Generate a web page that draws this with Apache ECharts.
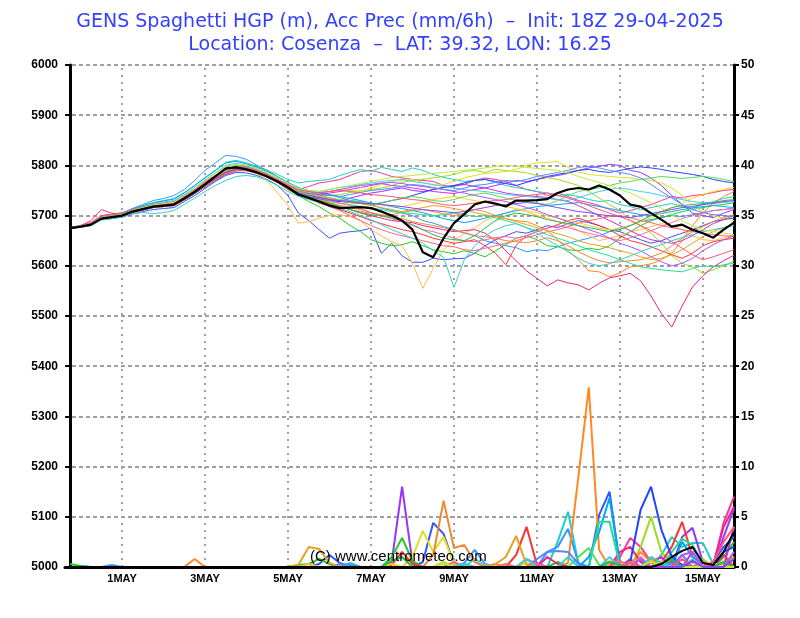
<!DOCTYPE html>
<html><head><meta charset="utf-8">
<script src="https://cdn.jsdelivr.net/npm/echarts@6/dist/echarts.min.js"></script>
<style>html,body{margin:0;padding:0;background:#fff}#c{width:800px;height:618px}</style>
</head><body><div id="c"></div>
<script>
// 6-hourly steps from init 18Z 29-04-2025 (65 steps)
const dateTickSteps = [5,13,21,29,37,45,53,61];
const dateTickLabels = ['1MAY','3MAY','5MAY','7MAY','9MAY','11MAY','13MAY','15MAY'];

// Control run HGP (m)
const hgp_ctrl = [5675,5678,5682,5694,5697,5700,5708,5713,5718,5720,5722,5734,5747,5762,5778,5794,5796,5792,5786,5778,5768,5756,
5742,5735,5728,5720,5715,5716,5717,5715,5708,5700,
5690,5672,5627,5617,5655,5685,5703,5722,5728,5724,
5718,5730,5730,5731,5733,5745,5752,5755,5752,5760,
5752,5740,5722,5718,5705,5692,5678,5682,5672,5665,
5656,5672,5686];

const hgp_m01 = [5676,5680,5690,5712,5705,5702,5712,5718,5722,5725,5728,5740,5752,5768,5780,5792,5800,5798,5790,5782,5772,5762,
5752,5758,5765,5768,5772,5780,5788,5790,5785,5778,
5775,5772,5770,5768,5760,5758,5762,5770,5775,5772,
5768,5760,5752,5748,5740,5745,5738,5730,5726,5720,
5712,5705,5710,5716,5722,5730,5738,5735,5740,5742,
5746,5750,5752];
const hgp_m02 = [5675,5679,5684,5698,5702,5706,5714,5720,5726,5730,5734,5746,5760,5776,5790,5806,5810,5805,5798,5790,5782,5772,
5765,5768,5770,5772,5780,5786,5792,5788,5796,5792,
5788,5795,5790,5782,5776,5772,5768,5770,5772,5766,
5760,5756,5752,5748,5745,5740,5742,5738,5732,5728,
5730,5722,5718,5712,5716,5720,5724,5718,5715,5722,
5728,5734,5738];
const hgp_m03 = [5674,5678,5683,5697,5700,5704,5714,5722,5730,5734,5740,5752,5770,5790,5805,5820,5818,5812,5800,5790,5776,5765,
5752,5745,5740,5742,5736,5730,5728,5722,5715,5710,
5705,5700,5690,5685,5678,5672,5665,5660,5650,5645,
5640,5636,5628,5632,5630,5638,5645,5650,5655,5660,
5668,5675,5680,5688,5692,5696,5700,5698,5702,5706,
5710,5712,5715];
const hgp_m04 = [5675,5677,5680,5692,5694,5697,5703,5708,5712,5714,5716,5728,5740,5754,5768,5780,5786,5785,5780,5772,5760,5740,
5705,5690,5672,5655,5665,5668,5670,5675,5625,5645,
5620,5607,5607,5615,5612,5614,5615,5625,5640,5652,
5660,5668,5665,5672,5680,5676,5684,5690,5686,5680,
5672,5668,5660,5652,5645,5650,5658,5665,5672,5680,
5688,5692,5695];
const hgp_m05 = [5675,5679,5683,5696,5699,5702,5710,5716,5720,5722,5724,5736,5750,5764,5776,5790,5797,5795,5789,5781,5770,5758,
5748,5742,5738,5732,5728,5735,5740,5745,5748,5752,
5755,5750,5748,5752,5756,5760,5762,5758,5755,5760,
5765,5770,5768,5772,5776,5780,5784,5790,5795,5798,
5802,5800,5790,5786,5775,5760,5740,5722,5705,5700,
5696,5705,5712];
const hgp_m06 = [5676,5679,5683,5694,5697,5700,5708,5714,5718,5720,5722,5733,5746,5760,5772,5786,5792,5792,5786,5776,5766,5752,
5740,5728,5718,5705,5695,5680,5668,5652,5645,5640,
5642,5648,5640,5632,5628,5624,5630,5625,5618,5630,
5642,5655,5660,5652,5640,5638,5632,5630,5635,5632,
5640,5655,5668,5680,5690,5696,5702,5708,5712,5716,
5720,5722,5726];
const hgp_m07 = [5675,5678,5682,5695,5698,5701,5709,5714,5719,5721,5723,5734,5748,5762,5776,5790,5800,5799,5794,5786,5776,5764,
5754,5748,5744,5740,5742,5746,5750,5752,5755,5760,
5766,5770,5772,5775,5778,5782,5788,5790,5786,5792,
5790,5788,5785,5780,5776,5772,5766,5760,5748,5735,
5722,5710,5692,5680,5665,5645,5620,5605,5598,5585,
5592,5600,5610];
const hgp_m08 = [5674,5678,5682,5694,5697,5700,5707,5712,5717,5720,5722,5734,5747,5762,5775,5790,5797,5796,5790,5782,5772,5760,
5752,5746,5745,5748,5752,5750,5748,5755,5762,5768,
5770,5772,5766,5760,5762,5768,5775,5780,5784,5786,
5788,5792,5800,5805,5806,5808,5796,5787,5782,5780,
5778,5776,5775,5772,5770,5765,5755,5740,5720,5708,
5700,5695,5690];
const hgp_m09 = [5675,5678,5681,5693,5696,5699,5707,5713,5717,5719,5721,5732,5745,5758,5772,5784,5792,5791,5786,5778,5767,5754,
5744,5738,5732,5726,5720,5716,5712,5706,5700,5702,
5706,5710,5712,5708,5704,5700,5705,5712,5708,5700,
5694,5690,5688,5680,5670,5652,5630,5612,5590,5588,
5578,5586,5598,5600,5604,5612,5625,5650,5680,5705,
5725,5738,5748];
const hgp_m10 = [5675,5679,5683,5696,5699,5702,5710,5716,5721,5723,5726,5738,5752,5766,5778,5790,5795,5792,5784,5770,5745,5720,
5685,5688,5695,5700,5702,5698,5690,5672,5660,5648,
5640,5605,5555,5595,5632,5650,5665,5675,5690,5698,
5705,5712,5708,5700,5695,5688,5682,5670,5660,5650,
5655,5660,5668,5672,5678,5684,5680,5672,5660,5652,
5650,5656,5662];
const hgp_m11 = [5676,5680,5686,5700,5703,5705,5712,5717,5720,5722,5724,5736,5750,5763,5776,5788,5794,5792,5786,5778,5766,5752,
5742,5735,5725,5718,5712,5705,5698,5690,5684,5678,
5672,5668,5662,5655,5650,5645,5648,5652,5640,5625,
5602,5641,5660,5668,5675,5682,5690,5695,5688,5680,
5672,5660,5650,5645,5638,5630,5622,5615,5625,5640,
5648,5652,5655];
const hgp_m12 = [5674,5678,5681,5692,5695,5698,5706,5712,5716,5718,5720,5731,5744,5757,5770,5782,5789,5790,5785,5777,5766,5753,
5743,5736,5728,5722,5718,5712,5705,5700,5695,5690,
5688,5686,5680,5676,5672,5668,5670,5672,5665,5650,
5630,5610,5590,5575,5560,5572,5566,5562,5552,5565,
5576,5580,5585,5570,5540,5505,5478,5520,5558,5580,
5598,5610,5621];
const hgp_m13 = [5675,5679,5684,5697,5701,5704,5713,5719,5725,5729,5733,5745,5760,5775,5790,5805,5808,5803,5796,5788,5778,5766,
5756,5750,5745,5742,5738,5734,5730,5725,5722,5718,
5714,5710,5706,5700,5694,5690,5686,5690,5695,5700,
5705,5710,5714,5718,5720,5722,5724,5726,5722,5718,
5714,5710,5706,5702,5700,5704,5708,5712,5715,5718,
5720,5718,5716];
const hgp_m14 = [5676,5679,5683,5695,5698,5701,5709,5715,5719,5721,5723,5735,5749,5763,5777,5790,5796,5794,5788,5780,5769,5756,
5746,5740,5734,5728,5724,5722,5718,5716,5712,5708,
5706,5704,5702,5700,5702,5705,5702,5698,5700,5696,
5690,5684,5676,5670,5662,5655,5648,5640,5632,5626,
5620,5612,5605,5598,5595,5592,5590,5588,5595,5600,
5598,5602,5605];
const hgp_m15 = [5675,5678,5682,5695,5698,5701,5708,5713,5718,5720,5722,5733,5747,5761,5775,5788,5794,5793,5788,5780,5769,5757,
5748,5744,5742,5745,5748,5752,5756,5760,5764,5760,
5758,5755,5752,5748,5746,5744,5748,5752,5755,5750,
5745,5742,5740,5738,5736,5732,5728,5720,5710,5700,
5690,5680,5670,5660,5652,5648,5645,5650,5660,5672,
5684,5692,5700];
const hgp_m16 = [5674,5677,5681,5693,5696,5699,5706,5711,5716,5718,5720,5731,5744,5758,5771,5784,5791,5790,5785,5777,5766,5754,
5744,5738,5734,5730,5728,5726,5724,5722,5725,5730,
5734,5740,5746,5752,5756,5760,5765,5770,5772,5768,
5764,5760,5766,5772,5778,5782,5786,5790,5792,5788,
5786,5790,5794,5797,5795,5792,5788,5785,5782,5778,
5772,5768,5765];
const hgp_m17 = [5676,5680,5685,5698,5701,5703,5710,5715,5719,5721,5723,5734,5747,5760,5773,5785,5791,5790,5785,5777,5766,5754,
5744,5735,5726,5718,5710,5700,5690,5680,5672,5665,
5660,5655,5650,5645,5640,5638,5632,5630,5635,5640,
5645,5650,5656,5662,5668,5672,5678,5685,5690,5694,
5698,5700,5696,5690,5686,5680,5676,5672,5668,5665,
5662,5660,5658];
const hgp_m18 = [5675,5679,5682,5694,5697,5700,5708,5714,5718,5720,5722,5734,5748,5762,5776,5789,5795,5794,5789,5781,5770,5758,
5746,5742,5738,5734,5730,5728,5726,5724,5722,5720,
5718,5722,5728,5732,5735,5738,5734,5730,5726,5722,
5718,5714,5710,5706,5700,5695,5690,5686,5680,5675,
5672,5675,5680,5688,5696,5705,5715,5725,5735,5742,
5748,5752,5756];
const hgp_m19 = [5675,5678,5683,5696,5699,5702,5710,5716,5720,5722,5725,5737,5751,5765,5779,5793,5799,5797,5791,5783,5772,5760,
5750,5745,5740,5736,5732,5730,5726,5722,5726,5730,
5735,5738,5735,5730,5728,5732,5738,5742,5745,5740,
5735,5730,5728,5725,5722,5730,5740,5748,5752,5755,
5760,5765,5768,5772,5775,5778,5776,5774,5776,5778,
5776,5772,5768];
const hgp_m20 = [5674,5678,5682,5693,5696,5699,5706,5712,5716,5718,5721,5732,5745,5759,5772,5785,5792,5791,5786,5778,5767,5755,
5745,5740,5735,5730,5725,5720,5714,5706,5700,5694,
5688,5680,5672,5668,5662,5655,5650,5648,5652,5656,
5658,5655,5660,5668,5675,5680,5676,5670,5665,5660,
5655,5650,5656,5662,5670,5678,5686,5694,5700,5705,
5710,5712,5714];
const hgp_m21 = [5675,5679,5684,5698,5701,5704,5712,5718,5724,5727,5730,5742,5756,5771,5785,5800,5804,5800,5794,5786,5776,5765,
5755,5750,5748,5752,5756,5758,5762,5765,5768,5770,
5772,5768,5765,5762,5758,5755,5752,5750,5748,5745,
5742,5740,5738,5736,5734,5732,5730,5736,5742,5748,
5752,5755,5752,5748,5745,5740,5736,5732,5728,5726,
5725,5726,5728];
const hgp_m22 = [5675,5679,5683,5696,5699,5702,5710,5716,5720,5722,5724,5736,5750,5764,5778,5792,5798,5796,5790,5782,5772,5760,
5752,5748,5745,5748,5752,5756,5760,5762,5765,5766,
5764,5760,5758,5755,5752,5748,5745,5740,5736,5732,
5728,5722,5716,5710,5702,5695,5688,5680,5672,5665,
5655,5645,5638,5630,5618,5608,5600,5605,5615,5630,
5642,5652,5660];
const hgp_m23 = [5675,5678,5681,5693,5696,5699,5706,5711,5716,5718,5720,5731,5745,5758,5771,5784,5790,5789,5784,5776,5765,5752,
5742,5736,5730,5725,5718,5712,5708,5705,5702,5698,
5694,5688,5684,5680,5676,5670,5666,5660,5658,5655,
5650,5648,5646,5650,5656,5650,5640,5628,5618,5610,
5606,5608,5610,5612,5618,5625,5640,5655,5668,5678,
5688,5696,5702];
const hgp_m24 = [5676,5679,5683,5695,5698,5701,5709,5715,5719,5721,5723,5734,5748,5762,5775,5788,5794,5793,5787,5779,5768,5756,
5746,5738,5730,5724,5718,5712,5706,5702,5700,5695,
5690,5682,5672,5662,5655,5652,5650,5660,5675,5690,
5700,5705,5702,5698,5692,5688,5684,5680,5676,5672,
5668,5672,5680,5690,5700,5708,5716,5720,5722,5724,
5726,5730,5732];
const hgp_m25 = [5675,5678,5682,5695,5698,5701,5709,5714,5719,5721,5724,5736,5750,5764,5778,5791,5797,5795,5789,5781,5770,5758,
5748,5744,5742,5740,5738,5742,5746,5750,5752,5755,
5758,5762,5760,5756,5752,5750,5755,5760,5762,5766,
5770,5768,5772,5778,5782,5786,5790,5796,5798,5795,
5790,5786,5782,5775,5762,5748,5735,5722,5712,5706,
5702,5700,5698];
const hgp_m26 = [5675,5679,5683,5695,5698,5700,5708,5714,5719,5721,5723,5735,5748,5762,5776,5789,5795,5794,5789,5781,5770,5758,
5748,5742,5738,5735,5730,5726,5724,5720,5716,5712,
5708,5712,5716,5720,5718,5714,5710,5706,5702,5698,
5694,5688,5682,5676,5670,5664,5658,5650,5644,5640,
5636,5630,5625,5618,5612,5615,5622,5632,5645,5658,
5668,5676,5684];
const hgp_m27 = [5676,5680,5685,5699,5702,5704,5712,5717,5721,5723,5726,5738,5752,5766,5780,5792,5798,5796,5790,5782,5772,5760,
5752,5748,5746,5748,5750,5748,5745,5742,5740,5738,
5735,5732,5730,5726,5722,5720,5722,5725,5728,5730,
5732,5736,5740,5742,5745,5740,5735,5728,5720,5712,
5705,5698,5690,5680,5670,5660,5648,5635,5622,5612,
5618,5625,5632];
const hgp_m28 = [5674,5677,5680,5691,5694,5697,5704,5706,5704,5706,5710,5722,5735,5748,5760,5770,5778,5780,5777,5770,5760,5748,
5738,5732,5726,5720,5714,5708,5700,5692,5682,5672,
5664,5655,5645,5630,5617,5557,5612,5640,5660,5672,
5680,5684,5676,5665,5652,5640,5628,5615,5605,5600,
5604,5612,5620,5628,5636,5642,5650,5656,5662,5668,
5672,5676,5680];
const hgp_m29 = [5675,5679,5683,5696,5699,5702,5710,5716,5721,5724,5727,5740,5754,5769,5784,5798,5802,5800,5794,5786,5776,5764,
5754,5750,5748,5752,5756,5760,5764,5768,5772,5776,
5778,5780,5782,5784,5786,5788,5790,5792,5795,5798,
5800,5798,5796,5794,5792,5790,5785,5778,5772,5766,
5760,5752,5745,5735,5726,5715,5702,5690,5680,5672,
5668,5665,5662];
const hgp_m30 = [5675,5678,5682,5694,5697,5700,5707,5712,5717,5719,5721,5733,5746,5760,5773,5786,5792,5791,5786,5778,5767,5755,
5745,5740,5736,5732,5730,5728,5725,5724,5722,5720,
5718,5715,5712,5710,5708,5706,5708,5712,5716,5720,
5722,5724,5726,5724,5720,5716,5712,5708,5706,5702,
5700,5698,5696,5700,5704,5708,5712,5716,5718,5722,
5724,5728,5730];

// Accumulated precipitation (mm/6h), groups of 13 steps
const prec_ctrl = [0,0,0,0,0,0,0,0,0,0,0,0,0, 0,0,0,0,0,0,0,0,0,0,0,0,0, 0,0,0,0,0,0,0,0,0,0,0,0,0, 0,0,0,0,0,0,0,0,0,0,0,0,0, 0,0,0,0,0,0.3,1.0,1.6,2.0,0.4,0.2,1.5,3.5];
const prec_m01 = [0,0,0,0,0,0,0,0,0,0,0,0,0, 0,0,0,0,0,0,0,0,0,0,0,0,0, 0,0,0,0,0,0,0,0,0,0,0,0,0.3, 0,0,0,0,0,0,0.4,0,0,0,0,0,0, 0,1.0,2.9,2.0,0.5,0,0,0,0,0,0,4.4,7.0];
const prec_m02 = [0,0,0,0,0,0,0,0,0,0,0,0,0, 0,0,0,0,0,0,0,0,0,0,0,0,0, 0,0.4,0,0,0,0,0,0,0,0,0,0,0, 0,0,0,0,0,0,0,0,2.5,5.5,0.3,0,0, 0,0,0,0,0,1.2,3.0,2.0,2.4,2.4,0.3,0,0];
const prec_m03 = [0,0.1,0,0,0.2,0,0,0,0,0,0,0,0, 0,0,0,0,0,0,0,0,0,0,0,0,0, 0,0,0,0,0,0,0,0,0,0,0,0,0.4, 1.7,0.3,0,0,0,0,0,1.5,2.0,3.8,0.4,0,0, 0,0,0,0,0,0,0,1.2,0,0,0,0,0];
const prec_m04 = [0,0,0,0,0,0,0,0,0,0,0,0,0, 0,0,0,0,0,0,0,0,0,0,0,0.3,1.2, 0.4,0,0,0,0,0,0,0,0.5,4.4,3.3,0.3,0, 0,0,0,0,0,0,0,0,0,0,0,0,5.2, 7.5,0.2,0,0,0,0,0,0,0,0,0.5,2.0,3.0];
const prec_m05 = [0,0,0,0,0,0,0,0,0,0,0,0,0, 0,0,0,0,0,0,0,0,0,0,0,0,0, 0,0,0,0,0,0.5,8.0,0.4,0,0,0,0,0, 0,0,0,0,0,0,0,0,0,0,0,0,0, 0,0,0.8,0,0,0,0,3.0,3.9,0.5,0,3.0,5.8];
const prec_m06 = [0.3,0.1,0,0,0,0,0,0,0,0,0,0,0, 0,0,0,0,0,0,0,0,0,0.2,0.3,0.8,0.3, 0,0,0,0,0,1.0,2.9,0.6,0,0,0,0,0, 0,0,0,0,0,0,0,0,0.5,0,0,0,0, 0,0,0,0,0.8,0,0,0,0,0,0,1.0,2.5];
const prec_m07 = [0,0,0,0,0,0,0,0,0,0,0,0,0, 0,0,0,0,0,0,0,0,0,0,0,0,0, 0,0,0,0,0,0,0,0,0,0,0.5,0,0, 0,0,0,0,0,0,0,0,0,0,0,0,0, 0,0,0,2.0,5.0,1.5,0.3,0,0,0.8,0,0,1.0];
const prec_m08 = [0,0,0,0,0,0,0,0,0,0,0,0,0, 0,0,0,0,0,0,0,0,0,0,0,0,0, 0,0,0,0,0,0,0,1.0,3.6,1.5,3.0,0.3,0, 0,0,0,0,0,0,0,0,0,0,0,0,0, 0.6,0.2,0,0,0,0,0,0,0,0,0,0,0];
const prec_m09 = [0,0,0,0,0,0,0,0,0,0,0,0,0.8, 0,0,0,0,0,0,0,0,0,0,0,0,0, 0,0,0,0,0,0,0,0,0,0,0,0,0, 0,0,0,0,0,0,0,0,0,0.4,9.0,17.9,1.7, 0,0,0,1.5,0.5,0,0,0,0,0,0,0.5,1.0];
const prec_m10 = [0,0,0,0,0,0,0,0,0,0,0,0,0, 0,0,0,0,0,0,0,0,0,0,0.3,0,0, 0,0,0,0,0,0,0,0,0,0,0.3,0,0, 0,0,0,0,0,0,0,0,0,0,0,0,0, 0.3,0,0,0,0,0,0,0,0.5,0,0,0.3,0];
const prec_m11 = [0,0,0,0,0,0,0,0,0,0,0,0,0, 0,0,0,0,0,0,0,0,0,0,0,0,0, 0,0,0,0,0,0.2,1.5,0.3,0,0,0,0,0, 0,0,0,0,1.2,4.0,0.2,0,0,0,0,0,0, 0,0,0,0,0,0.5,2.0,4.5,1.0,0,0,1.2,0];
const prec_m12 = [0,0,0,0,0,0,0,0,0,0,0,0,0, 0,0,0,0,0,0,0,0,0,0,0,0,0, 0,0,0,0,0,0,0,0,0,0,0,0,0, 0,0,0,0,0,0,0,1.0,0.3,0,0,0,0, 0,1.5,2.0,0.5,0,0,0.5,0,0,0,0.3,4.0,6.0];
const prec_m13 = [0,0,0,0,0,0,0,0,0,0,0,0,0, 0,0,0,0,0,0,0,0,0,0,0,0,0, 0,0,0,0,0,0,0,0,0,0,0,0,0, 0,0,0,0,0,0,0,0,0,0,0,1.0,3.5, 6.9,0.2,0,0,0,0,0,2.5,1.0,0,0,0,0];
const prec_m14 = [0,0,0,0,0,0,0,0,0,0,0,0,0, 0,0,0,0,0,0,0,0,0,0,0,0,0, 0,0,0,0,0,0,0,0,0,0,0,0,0, 0,0,0,0,0,0,0,0,0,0,0,0,4.5, 4.5,0.2,0,0,0,0,1.5,2.8,2.2,0.4,0,0,0];
const prec_m15 = [0,0,0,0,0,0,0,0,0,0,0,0,0, 0,0,0,0,0,0,0,0,0,0,0,0,0, 0,0,0,0,0,0,0,0,0,0,0,0,0, 0,0,0,0,0,0,0,0,0,0,0,0,0, 0,0,0,0,0.5,1.0,0,0,1.5,0,0,0,4.0];
const prec_m16 = [0,0,0,0,0,0,0,0,0,0,0,0,0, 0,0,0,0,0,0,0,0,0,0,0,0,0, 0,0,0,0,0,0,0,0,0,0,0,0,0, 0,0,0,0,0,0,0,0,0,0,0,0,0, 0,0,0.5,5.7,8.0,3.7,1.0,0.2,0,0,0,1.5,2.0];
const prec_m17 = [0,0,0,0,0,0,0,0,0,0,0,0,0, 0,0,0,0,0,0,0,0,0,0,0,0,0, 0,0,0,0,0,0,0,0,0,0,0,0.5,0, 0,0,0,0.3,0,0,0,0,0,0,0,0,0, 0,0.6,0,0,0,0,0,0,0,0,0,0,0];
const prec_m18 = [0,0,0,0,0,0,0,0,0,0,0,0,0, 0,0,0,0,0,0,0,0,0,0,0,0,0, 0,0,0,0,0,0.3,0,0,0,0,0,0,0, 0,0,0,0,0,0.4,0,0,0,0,0,0,0, 0,0,0,0,0,0.6,0,0,0,0,0.4,0,0];
const prec_m19 = [0,0,0,0,0,0,0,0,0,0,0,0,0, 0,0,0,0,0,0,0,0,0,0,0,0,0, 0,0,0,0,0,0,0,0,0,0,0,0,0, 0,0,0,0,0,0,0,0,0,0,1.0,1.9,0.2, 0,0,0,0,0,0,0,0,0,0,0,0,0];
const prec_m20 = [0,0,0,0,0,0,0,0,0,0,0,0,0, 0,0,0,0,0,0,0,0,0,0,0,0,0, 0,0,0,0,0,0,0,0,0,0,0,0,0, 0,0,0,0,0,0.8,0.3,0,0,0,0,0,0, 0,0,0,1.0,0,0,0,0,0,0.5,0,0,0];
const prec_m21 = [0,0,0,0,0,0,0,0,0,0,0,0,0, 0,0,0,0,0,0,0,0,0,0,0,0,0, 0,0.2,0,0,0,0,0,0,0,0,0,0,0, 0.8,0.2,0,0,0,0,0,0,0,0,0,0,0, 1.0,0,0,0,0,0,0,0,0.8,0,0,0,0];
const prec_m22 = [0,0,0,0,0,0,0,0,0,0,0,0,0, 0,0,0,0,0,0,0,0,0,0,0,0,0, 0,0,0,0,0,0,0,0,0,0,0,0,0, 0,0,0,0,0,0,0,0,0,0,0,0,0, 0,0,0,0.8,0,0,0,1.2,1.5,0,0,0,1.5];
const prec_m23 = [0,0,0,0,0,0,0,0,0,0,0,0,0, 0,0,0,0,0,0,0,0,0,0,0,0,0, 0,0,0,0,0,0,0,0,0,1.2,6.6,1.9,2.2, 0.5,0,0.3,0,0,0,0,0,0,0,0,0,0, 0,0,0.5,0,0.8,0,0,0,0,0,0,0,0];
const prec_m24 = [0,0,0,0,0,0,0,0,0,0,0,0,0, 0,0,0,0,0,0,0,0,0,0,0,0,0, 0,0,0,0,0,0.6,1.0,0,0,0,0,0,0, 0,0,0,0,0,0,0,0,0,0,0,0,0, 0.5,0.2,0,0,0,0,0.8,0,0,0,0,0.5,0];
const prec_m25 = [0,0,0,0,0,0,0,0,0,0,0,0,0, 0,0,0,0,0,0,0,0,0,0,0,0,0, 0.3,0.2,0,0,0,0,0,0,0,0,0,0,0, 0,0,0,0,0,0,0.8,1.5,1.6,1.5,0.3,0,0, 0,0,0,0,0,0,0.4,0,0,0,0,0,0];
const prec_m26 = [0,0,0,0,0,0,0,0,0,0,0,0,0, 0,0,0,0,0,0,0,0,0,0.2,2.0,1.8,0.4, 0,0,0,0,0,0,0,0,0,0,0,0,0, 0,0,0.3,1.0,3.1,0.2,0,0,0,0,0,0,0, 0,0,0,0,0,0,0,0,0,0,0,0,0];
const prec_m27 = [0,0,0,0,0,0,0,0,0,0,0,0,0, 0,0,0,0,0,0,0,0,0,0,0,0,0, 0,0,0,0,0,0,0,0,0,0,0,0,0, 0,0,0,0,0,0,0,0,0,0,0,0,0, 0,0,0.4,0,0,0,0,0.8,0,0,0.5,2.5,4.0];
const prec_m28 = [0,0,0,0,0,0,0,0,0,0,0,0,0, 0,0,0,0,0,0,0,0,0,0,0,0,0, 0,0,0,0,0,0,0,0,0,0,0,0,0.3, 0,0,0,0,0,0.8,0,0,0,1.0,0,0,0, 0,0,0,0,1.0,0.4,0,0,0,0,0,0,0];
const prec_m29 = [0,0,0,0,0,0,0,0,0,0,0,0,0, 0,0,0,0,0,0,0,0,0,0,0,0,0, 0,0,0,0,0,0,0,0,0,0,0.4,0,0, 0,0,0,0,0,0,0,0,0,0,0,0,0, 0,0,0,0,0.6,0,0,0,0,0,0,0,0];
const prec_m30 = [0,0,0,0,0,0,0,0,0,0,0,0,0, 0,0,0,0,0,0,0,0,0,0,0,0,0, 0,0,0,0,0,0,0,0,0,0,0,0,0, 0,0,0,0,0,0,0,0,0,0,0,0,0, 0,0,0,0,0,0,0,0,0.6,0,0,0,0.8];

const memberColors = ['#ff3399','#22cccc','#3399ff','#3355ff','#9933ff','#22cc22','#99dd22','#e0e020','#ff8822','#ffbb44',
'#ff3333','#ee2288','#00aaee','#22dd99','#cc33cc','#2244ff','#ff6677','#ffcc22','#55dd55','#ff66aa',
'#44ccee','#aa55ff','#ee8833','#22bb55','#5588ff','#e8a020','#ff5577','#33d0d0','#bbee33','#8844ee'];

const hgpMembers = [hgp_m01,hgp_m02,hgp_m03,hgp_m04,hgp_m05,hgp_m06,hgp_m07,hgp_m08,hgp_m09,hgp_m10,
hgp_m11,hgp_m12,hgp_m13,hgp_m14,hgp_m15,hgp_m16,hgp_m17,hgp_m18,hgp_m19,hgp_m20,
hgp_m21,hgp_m22,hgp_m23,hgp_m24,hgp_m25,hgp_m26,hgp_m27,hgp_m28,hgp_m29,hgp_m30];
const precMembers = [prec_m01,prec_m02,prec_m03,prec_m04,prec_m05,prec_m06,prec_m07,prec_m08,prec_m09,prec_m10,
prec_m11,prec_m12,prec_m13,prec_m14,prec_m15,prec_m16,prec_m17,prec_m18,prec_m19,prec_m20,
prec_m21,prec_m22,prec_m23,prec_m24,prec_m25,prec_m26,prec_m27,prec_m28,prec_m29,prec_m30];

const toXY = arr => arr.map((v, i) => [i, v]);

const series = [];
series.push({
  type: 'line', data: [], silent: true, z: 1,
  markLine: {
    silent: true, symbol: ['none','none'], z: 1, animation: false,
    label: {show: false},
    lineStyle: {color: '#a0a0a0', type: [2,5], width: 2},
    data: dateTickSteps.map(s => ({xAxis: s}))
  }
});
hgpMembers.forEach((arr, k) => {
  series.push({type:'line', yAxisIndex:0, data: toXY(arr), showSymbol:false, symbol:'none', silent:true,
    lineStyle:{color: memberColors[k], width:1}, z:2});
});
series.push({type:'line', yAxisIndex:0, data: toXY(hgp_ctrl), showSymbol:false, symbol:'none', silent:true,
  lineStyle:{color:'#000', width:2.2}, z:3});
precMembers.forEach((arr, k) => {
  series.push({type:'line', yAxisIndex:1, data: toXY(arr), showSymbol:false, symbol:'none', silent:true,
    lineStyle:{color: memberColors[k], width:2}, z:4});
});
series.push({type:'line', yAxisIndex:1, data: toXY(prec_ctrl), showSymbol:false, symbol:'none', silent:true,
  lineStyle:{color:'#000', width:2}, z:4});

const axisFont = {fontFamily: 'Liberation Sans', fontWeight: 'bold', fontSize: 12, color: '#000'};
const titleStyle = {fontFamily: 'DejaVu Sans', fontWeight: 'normal', fontSize: 19, color: '#3340ff'};

const chart = echarts.init(document.getElementById('c'), null, {renderer: 'canvas'});
chart.setOption({
  animation: false,
  backgroundColor: '#fff',
  title: [
    {text: 'GENS Spaghetti HGP (m), Acc Prec (mm/6h)  \u2013  Init: 18Z 29-04-2025', left: 'center', top: 8, textStyle: titleStyle},
    {text: 'Location: Cosenza  \u2013  LAT: 39.32, LON: 16.25', left: 'center', top: 31, textStyle: titleStyle}
  ],
  grid: {left: 65, right: 66, top: 65, bottom: 51, containLabel: false, outerBoundsMode: 'none'},
  xAxis: {
    type: 'value', min: -0.5, max: 64,
    axisLine: {onZero: false, lineStyle: {color: '#000', width: 3}},
    axisTick: {show: false},
    splitLine: {show: false},
    axisLabel: {
      customValues: dateTickSteps,
      formatter: v => dateTickLabels[dateTickSteps.indexOf(Math.round(v))] || '',
      fontFamily: 'Liberation Sans', fontWeight: 'bold', fontSize: 11, color: '#000', margin: 6
    }
  },
  yAxis: [
    {type: 'value', min: 5000, max: 6000, interval: 100, position: 'left',
     axisLine: {show: true, lineStyle: {color: '#000', width: 3}},
     axisTick: {show: true, length: 5, lineStyle: {color: '#000', width: 2}},
     axisLabel: Object.assign({margin: 7, formatter: v => String(v)}, axisFont),
     splitLine: {show: true, lineStyle: {color: '#a0a0a0', type: [4,3], width: 2}}},
    {type: 'value', min: 0, max: 50, interval: 5, position: 'right',
     axisLine: {show: true, lineStyle: {color: '#000', width: 3}},
     axisTick: {show: true, length: 5, lineStyle: {color: '#000', width: 2}},
     axisLabel: Object.assign({margin: 7, formatter: v => String(v)}, axisFont),
     splitLine: {show: false}}
  ],
  graphic: [{
    type: 'text', left: 310, top: 549, z: 100,
    style: {text: '(C) www.centrometeo.com', fill: '#000', font: '15px "Liberation Sans"'}
  }],
  series: series
});
</script></body></html>
